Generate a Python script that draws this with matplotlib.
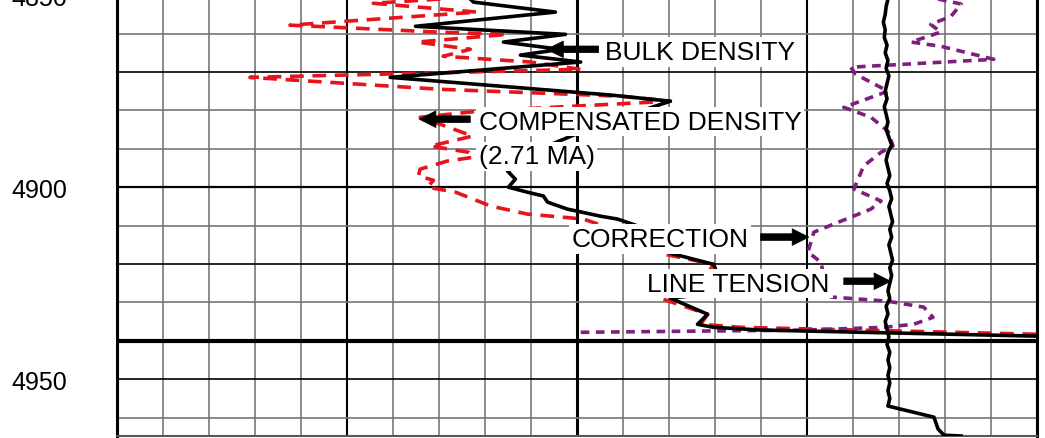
import matplotlib.pyplot as plt

plt.rcParams['font.family'] = ['Liberation Sans', 'DejaVu Sans']

# log readings: x in chart divisions (0-20), depth in ft
bulk_x = [7.68, 7.75, 9.53, 6.49, 9.75, 8.40, 9.64, 8.77, 10.08, 5.94, 10.73, 12.03,
          10.51, 9.20, 8.71, 8.49, 8.66, 8.51, 8.92, 9.27, 9.36, 9.79, 10.51, 10.88,
          12.40, 12.03, 12.97, 13.10, 12.40, 12.03, 12.84, 12.62, 12.97, 13.99, 20.02]
bulk_d = [4851.0, 4851.8, 4854.4, 4858.1, 4860.2, 4862.2, 4864.1, 4865.6, 4867.4, 4871.4, 4876.0, 4877.6,
          4883.6, 4890.0, 4894.5, 4895.8, 4897.9, 4900.0, 4901.3, 4902.3, 4903.9, 4905.7, 4907.55, 4908.3,
          4914.5, 4917.2, 4920.1, 4924.0, 4928.4, 4928.9, 4933.1, 4935.7, 4936.5, 4937.2, 4938.8]

comp_x = [7.03, 5.57, 7.83, 3.76, 6.96, 8.49, 6.53, 7.68, 7.09, 8.99, 10.08, 2.89, 7.03, 10.95, 12.03,
          7.86, 6.59, 7.14, 7.73, 6.81, 7.64, 7.75, 7.18, 6.59, 6.55, 6.88, 6.75, 7.36, 8.12, 8.92, 10.14,
          11.40, 11.88, 12.97, 12.69, 11.88, 12.84, 12.69, 13.56, 20.02]
comp_d = [4851.0, 4852.1, 4854.4, 4857.8, 4859.6, 4860.2, 4862.2, 4864.1, 4865.9, 4867.4, 4869.3, 4871.4, 4874.5, 4876.3, 4877.6,
          4880.2, 4881.8, 4884.1, 4886.7, 4889.3, 4890.9, 4892.2, 4893.2, 4895.3, 4897.1, 4898.2, 4900.0, 4901.3, 4904.9, 4907.0, 4908.3,
          4913.5, 4917.4, 4920.1, 4925.3, 4929.2, 4933.1, 4935.7, 4936.5, 4938.3]

corr_x = [17.85, 18.35, 18.13, 17.69, 17.91, 17.26, 17.91, 19.06, 15.95, 16.06, 16.76, 15.80, 16.39,
          16.76, 16.87, 16.61, 16.23, 16.02, 16.61, 16.39, 15.15, 15.02, 15.30, 15.41, 15.52, 16.76,
          17.54, 17.74, 17.32, 16.67, 15.02, 10.01]
corr_d = [4851.0, 4852.3, 4855.5, 4857.6, 4859.6, 4862.2, 4863.3, 4866.7, 4868.75, 4870.6, 4875.0, 4879.2, 4881.8,
          4885.4, 4889.3, 4890.9, 4894.5, 4900.5, 4903.6, 4905.7, 4911.7, 4916.9, 4919.5, 4925.3, 4928.6, 4929.7,
          4931.25, 4933.9, 4935.7, 4936.5, 4937.2, 4937.8]

tens_x = [16.76, 16.72, 16.70, 16.66, 16.70, 16.68, 16.74, 16.70, 16.76, 16.72, 16.78, 16.74, 16.70, 16.74,
          16.68, 16.72, 16.76, 16.72, 16.78, 16.84, 16.76, 16.72, 16.76, 16.80, 16.74, 16.80, 16.84, 16.78,
          16.82, 16.86, 16.80, 16.84, 16.78, 16.82, 16.86, 16.80, 16.84, 16.80, 16.76, 16.80, 16.72, 16.76,
          16.70, 16.74, 16.78, 16.74, 16.80, 16.76, 16.80, 16.76, 16.80, 16.76, 16.80, 16.76, 17.76, 17.85,
          17.98, 18.35]
tens_d = [4851, 4853, 4855, 4857, 4859, 4861, 4863, 4865, 4867, 4869, 4871, 4873, 4875, 4877,
          4879, 4881, 4883, 4885, 4887, 4889, 4891, 4893, 4895, 4897, 4899, 4901, 4903, 4905,
          4907, 4909, 4911, 4913, 4915, 4917, 4919, 4921, 4923, 4925, 4927, 4929, 4931, 4933,
          4935, 4937, 4939, 4941, 4943, 4945, 4947, 4949, 4951, 4953, 4955, 4957, 4959.9, 4963.0,
          4964.6, 4964.8]

depth_ticks = [4850, 4900, 4950]

# label text, (x, depth) of text, arrow tail, arrow tip
labels = ['BULK DENSITY', 'COMPENSATED DENSITY', '(2.71 MA)', 'CORRECTION', 'LINE TENSION']
label_pos = [(10.6, 4864.1), (7.86, 4882.3), (7.86, 4891.4), (9.88, 4912.8), (11.53, 4924.5)]
arrows = [((10.47, 4864.1), (9.34, 4864.1)),
          ((7.68, 4882.3), (6.57, 4882.3)),
          ((13.99, 4913.0), (15.04, 4913.0)),
          ((15.80, 4924.5), (16.82, 4924.5))]

fig = plt.figure(figsize=(10.45, 4.39), dpi=100)
ax = fig.add_axes([117/1045, 2/439, 920/1045, 440.8/439])
ax.set_xlim(0, 20)
ax.set_ylim(4964.8, 4850)

# chart grid
for gx in range(21):
    if gx in (0, 20, 10):
        ax.axvline(gx, color='black', lw=2.2, zorder=1)
    elif gx in (5, 15):
        ax.axvline(gx, color='black', lw=1.5, zorder=1)
    else:
        ax.axvline(gx, color='#777777', lw=1.2, zorder=1)
for gd in range(4860, 4970, 10):
    if gd == 4940:
        ax.axhline(gd, color='black', lw=3.0, zorder=1)
    elif gd == 4900:
        ax.axhline(gd, color='black', lw=1.6, zorder=1)
    elif gd in (4870, 4920, 4950):
        ax.axhline(gd, color='black', lw=1.2, zorder=1)
    else:
        ax.axhline(gd, color='#777777', lw=1.2, zorder=1)

ax.plot(comp_x, comp_d, color='#e8141c', lw=2.6, ls=(0, (3.8, 2.4)), zorder=3)
ax.plot(bulk_x, bulk_d, color='black', lw=2.6, zorder=4)
ax.plot(corr_x, corr_d, color='#7d1f7d', lw=2.6, ls=(0, (2.4, 1.8)), zorder=3)
ax.plot(tens_x, tens_d, color='black', lw=2.6, zorder=4)

for s, (tx, td) in zip(labels, label_pos):
    ax.text(tx, td + 0.6, s, fontsize=19, ha='left', va='center', zorder=5,
            bbox=dict(facecolor='white', edgecolor='none', pad=2))
for tail, tip in arrows:
    ax.annotate('', xy=tip, xytext=tail, zorder=6,
                arrowprops=dict(arrowstyle='simple,head_length=0.6,head_width=0.6,tail_width=0.24',
                                mutation_scale=20, color='black', lw=0.5, shrinkA=0, shrinkB=0))

ax.set_xticks([])
ax.set_yticks(depth_ticks)
ax.tick_params(axis='y', length=0, pad=36, labelsize=18)
for side in ('left', 'right'):
    ax.spines[side].set_linewidth(2.2)
ax.spines['top'].set_visible(False)
ax.spines['bottom'].set_color('#555555')
ax.spines['bottom'].set_linewidth(1.5)

fig.savefig('out.png', dpi=100)
